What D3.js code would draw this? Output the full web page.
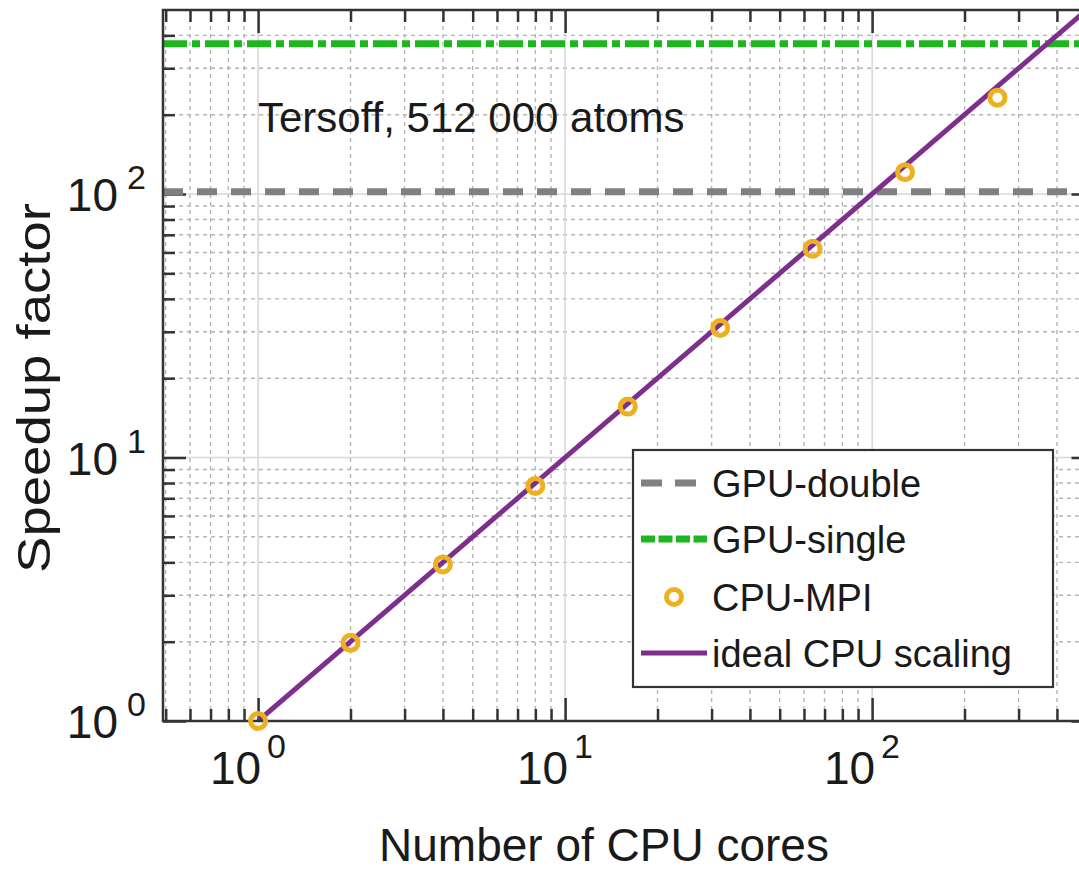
<!DOCTYPE html>
<html>
<head>
<meta charset="utf-8">
<script src="https://cdn.jsdelivr.net/npm/d3@7"></script>
<style>
  html, body { margin: 0; padding: 0; background: #fff; }
  svg { display: block; font-family: "Liberation Sans", Arial, sans-serif; }
</style>
</head>
<body>
<svg id="chart" width="1079" height="872"></svg>
<script>
// Strong-scaling benchmark: Tersoff potential, 512 000 atoms
const cores = [1, 2, 4, 8, 16, 32, 64, 128, 256];
const cpuMpi = [1, 1.98, 3.93, 7.8, 15.6, 31, 62, 121, 232];
const idealCores = [1, 500];
const idealSpeedup = [1, 500];
const gpuDouble = 102;
const gpuSingle = 372;

const xDomain = [0.49, 530];
const yDomain = [1, 500];
const majorExponents = [0, 1, 2];
const legendLabels = ["GPU-double", "GPU-single", "CPU-MPI", "ideal CPU scaling"];

const colors = {
  double: "#808080",
  single: "#1fb51f",
  mpi: "#edb120",
  ideal: "#7e2f8e",
  frame: "#333333"
};

const svg = d3.select("#chart");

// Plot frame geometry (right edge runs past the visible window)
const plotLeft = 163, plotTop = 10, plotBottom = 721;
const xDecade = 307, yDecade = 263.5;
const plotRight = plotLeft + xDecade * Math.log10(xDomain[1] / xDomain[0]);

const x = d3.scaleLog().domain(xDomain).range([plotLeft, plotRight]);
const y = d3.scaleLog().domain(yDomain)
  .range([plotBottom, plotBottom - yDecade * Math.log10(yDomain[1] / yDomain[0])]);

const majors = majorExponents.map(e => Math.pow(10, e));
function minorTicks(domain) {
  const out = [];
  for (let e = -1; e <= 3; e++) {
    for (let m = 2; m <= 9; m++) {
      const v = m * Math.pow(10, e);
      if (v > domain[0] && v < domain[1]) out.push(v);
    }
  }
  return out;
}
const xMinor = minorTicks(xDomain);
const yMinor = minorTicks(yDomain);

const plot = svg.append("g");
plot.append("defs").append("clipPath").attr("id", "clip")
  .append("rect").attr("x", plotLeft).attr("y", plotTop)
  .attr("width", plotRight - plotLeft).attr("height", plotBottom - plotTop);

// Grid lines
const grid = plot.append("g").attr("clip-path", "url(#clip)");
grid.selectAll(".gxm").data(xMinor).join("line")
  .attr("x1", d => x(d)).attr("x2", d => x(d)).attr("y1", plotTop).attr("y2", plotBottom)
  .attr("stroke", "#b5b5b5").attr("stroke-width", 1.4).attr("stroke-dasharray", "4,4");
grid.selectAll(".gym").data(yMinor).join("line")
  .attr("y1", d => y(d)).attr("y2", d => y(d)).attr("x1", plotLeft).attr("x2", plotRight)
  .attr("stroke", "#b5b5b5").attr("stroke-width", 1.4).attr("stroke-dasharray", "4,4");
grid.selectAll(".gxM").data(majors).join("line")
  .attr("x1", d => x(d)).attr("x2", d => x(d)).attr("y1", plotTop).attr("y2", plotBottom)
  .attr("stroke", "#d8d8d8").attr("stroke-width", 1.6);
grid.selectAll(".gyM").data(majors).join("line")
  .attr("y1", d => y(d)).attr("y2", d => y(d)).attr("x1", plotLeft).attr("x2", plotRight)
  .attr("stroke", "#d8d8d8").attr("stroke-width", 1.6);

// Inward tick marks on all sides
function styleAxis(g) {
  g.select(".domain").remove();
  g.selectAll(".tick line").attr("stroke", colors.frame).attr("stroke-width", 2.5);
  g.selectAll(".tick text").remove();
}
const minorLen = 12, majorLen = 23;
[[xMinor, yMinor, minorLen], [majors, majors, majorLen]].forEach(([xv, yv, len]) => {
  plot.append("g").attr("transform", `translate(0,${plotBottom})`)
    .call(d3.axisBottom(x).tickValues(xv).tickSize(-len)).call(styleAxis);
  plot.append("g").attr("transform", `translate(0,${plotTop})`)
    .call(d3.axisTop(x).tickValues(xv).tickSize(-len)).call(styleAxis);
  plot.append("g").attr("transform", `translate(${plotRight},0)`)
    .call(d3.axisRight(y).tickValues(yv).tickSize(-len)).call(styleAxis);
  plot.append("g").attr("transform", `translate(${plotLeft},0)`)
    .call(d3.axisLeft(y).tickValues(yv).tickSize(-len)).call(styleAxis);
});

// Data layer
const dataLayer = plot.append("g").attr("clip-path", "url(#clip)");
dataLayer.append("line")
  .attr("x1", plotLeft).attr("x2", plotRight).attr("y1", y(gpuDouble)).attr("y2", y(gpuDouble))
  .attr("stroke", colors.double).attr("stroke-width", 7).attr("stroke-dasharray", "20,14");
dataLayer.append("line")
  .attr("x1", plotLeft).attr("x2", plotRight).attr("y1", y(gpuSingle)).attr("y2", y(gpuSingle))
  .attr("stroke", colors.single).attr("stroke-width", 7).attr("stroke-dasharray", "24,5,8,5");

const idealPts = idealCores.map((c, i) => [c, idealSpeedup[i]]);
dataLayer.append("path")
  .datum(idealPts)
  .attr("d", d3.line().x(d => x(d[0])).y(d => y(d[1])))
  .attr("fill", "none").attr("stroke", colors.ideal).attr("stroke-width", 5);

// Frame
plot.append("rect")
  .attr("x", plotLeft).attr("y", plotTop)
  .attr("width", plotRight - plotLeft).attr("height", plotBottom - plotTop)
  .attr("fill", "none").attr("stroke", colors.frame).attr("stroke-width", 2.5);

// CPU-MPI markers (drawn over the frame, as they sit on the axis at 1 core)
plot.append("g").selectAll("circle")
  .data(cores.map((c, i) => [c, cpuMpi[i]]))
  .join("circle")
  .attr("cx", d => x(d[0])).attr("cy", d => y(d[1])).attr("r", 7.5)
  .attr("fill", "none").attr("stroke", colors.mpi).attr("stroke-width", 5);

// Tick labels: 10 with superscript exponent
const labelColor = "#1a1a1a";
majorExponents.forEach(e => {
  const v = Math.pow(10, e);
  const gx = svg.append("g").attr("fill", labelColor);
  gx.append("text").attr("x", x(v) + 3).attr("y", 784)
    .attr("text-anchor", "end").attr("font-size", 46).text("10");
  gx.append("text").attr("x", x(v) + 9).attr("y", 758)
    .attr("font-size", 34).text(e);

  const gy = svg.append("g").attr("fill", labelColor);
  gy.append("text").attr("x", 118).attr("y", y(v) + 17)
    .attr("text-anchor", "end").attr("font-size", 46).text("10");
  gy.append("text").attr("x", 127).attr("y", y(v) - 5)
    .attr("font-size", 34).text(e);
});

// Axis titles
svg.append("text")
  .attr("x", 604).attr("y", 861).attr("text-anchor", "middle")
  .attr("font-size", 46).attr("fill", labelColor)
  .text("Number of CPU cores");
svg.append("text")
  .attr("transform", "translate(50,388) rotate(-90)")
  .attr("text-anchor", "middle").attr("font-size", 46).attr("fill", labelColor)
  .attr("textLength", 370).attr("lengthAdjust", "spacingAndGlyphs")
  .text("Speedup factor");

// Annotation
svg.append("text")
  .attr("x", 258).attr("y", 132).attr("font-size", 42).attr("fill", labelColor)
  .text("Tersoff, 512 000 atoms");

// Legend
const lg = svg.append("g");
lg.append("rect").attr("x", 633).attr("y", 450).attr("width", 420).attr("height", 237)
  .attr("fill", "#fff").attr("stroke", colors.frame).attr("stroke-width", 2.2);
const rowY = [483, 539, 597, 653];
const sx0 = 641, sx1 = 707;
lg.append("line").attr("x1", sx0).attr("x2", sx1).attr("y1", rowY[0]).attr("y2", rowY[0])
  .attr("stroke", colors.double).attr("stroke-width", 7).attr("stroke-dasharray", "21,13");
lg.append("line").attr("x1", sx0).attr("x2", sx1).attr("y1", rowY[1]).attr("y2", rowY[1])
  .attr("stroke", colors.single).attr("stroke-width", 7).attr("stroke-dasharray", "14,3.5");
lg.append("circle").attr("cx", (sx0 + sx1) / 2).attr("cy", rowY[2]).attr("r", 7.5)
  .attr("fill", "none").attr("stroke", colors.mpi).attr("stroke-width", 5);
lg.append("line").attr("x1", sx0).attr("x2", sx1).attr("y1", rowY[3]).attr("y2", rowY[3])
  .attr("stroke", colors.ideal).attr("stroke-width", 5);
lg.selectAll(".lt").data(legendLabels).join("text")
  .attr("x", 712).attr("y", (d, i) => rowY[i] + 14)
  .attr("font-size", 38).attr("fill", labelColor).text(d => d);
</script>
</body>
</html>
